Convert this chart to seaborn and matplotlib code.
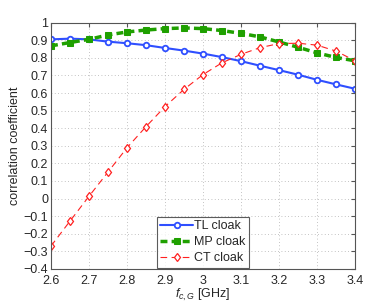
import numpy as np
import pandas as pd
import matplotlib
matplotlib.use('Agg')
import matplotlib.pyplot as plt
import seaborn as sns

freq = [2.6, 2.65, 2.7, 2.75, 2.8, 2.85, 2.9, 2.95, 3.0, 3.05, 3.1, 3.15, 3.2, 3.25, 3.3, 3.35, 3.4]
tl_cloak = [0.905, 0.909, 0.905, 0.892, 0.883, 0.872, 0.856, 0.841, 0.824, 0.804, 0.781, 0.755, 0.730, 0.704, 0.675, 0.649, 0.624]
mp_cloak = [0.868, 0.887, 0.905, 0.930, 0.947, 0.958, 0.966, 0.970, 0.966, 0.955, 0.939, 0.919, 0.890, 0.860, 0.828, 0.802, 0.783]
ct_cloak = [-0.27, -0.128, 0.013, 0.151, 0.289, 0.409, 0.523, 0.621, 0.705, 0.772, 0.820, 0.858, 0.881, 0.883, 0.872, 0.838, 0.783]

df = pd.DataFrame({'f': freq, 'TL cloak': tl_cloak, 'MP cloak': mp_cloak, 'CT cloak': ct_cloak})

sns.set_style('white')
plt.rcParams['font.family'] = ['Liberation Sans', 'DejaVu Sans']
plt.rcParams['mathtext.fontset'] = 'custom'
plt.rcParams['mathtext.it'] = 'Liberation Sans:italic'
plt.rcParams['mathtext.rm'] = 'Liberation Sans'

fig = plt.figure(figsize=(3.92, 3.06), dpi=100)
ax = fig.add_axes([0.130, 0.121, 0.776, 0.805])

sns.lineplot(x='f', y='TL cloak', data=df, ax=ax, color='#2f4fff', linewidth=1.5,
             marker='o', markersize=4, markerfacecolor='white', markeredgecolor='#2f4fff',
             markeredgewidth=1.3, label='TL cloak')
sns.lineplot(x='f', y='MP cloak', data=df, ax=ax, color='#1fa000', linewidth=2.5,
             linestyle=(0, (2.0, 1.2)), marker='s', markersize=4, markerfacecolor='#1fa000',
             markeredgecolor='#1fa000', label='MP cloak')
sns.lineplot(x='f', y='CT cloak', data=df, ax=ax, color='#ff2020', linewidth=0.8,
             linestyle=(0, (6, 4)), marker='d', markersize=4.5, markerfacecolor='white',
             markeredgecolor='#ff2020', markeredgewidth=0.9, label='CT cloak')

ax.set_xlim(2.6, 3.4)
ax.set_ylim(-0.4, 1.0)
ax.set_xticks(np.arange(2.6, 3.41, 0.1))
ax.set_xticklabels(['2.6', '2.7', '2.8', '2.9', '3', '3.1', '3.2', '3.3', '3.4'])
ax.set_yticks(np.arange(-0.4, 1.01, 0.1))
ax.set_yticklabels(['\u22120.4', '\u22120.3', '\u22120.2', '\u22120.1', '0', '0.1', '0.2', '0.3',
                    '0.4', '0.5', '0.6', '0.7', '0.8', '0.9', '1'])
ax.grid(True, linestyle=(0, (1, 3)), color='#b0b0b0', linewidth=0.6)
ax.tick_params(direction='in', length=3, labelsize=9, top=True, right=True, pad=2,
               color='#555555')
ax.tick_params(axis='x', pad=4)
for s in ax.spines.values():
    s.set_color('#555555')
    s.set_linewidth(0.8)

ax.set_xlabel('$f_{c,G}$ [GHz]', fontsize=9, labelpad=0)
ax.set_ylabel('correlation coefficient', fontsize=9, labelpad=2)

leg = ax.legend(loc='lower center', bbox_to_anchor=(0.5, 0.0), fontsize=9, frameon=True,
                fancybox=False, handlelength=2.6, handletextpad=0.1, borderpad=0.3,
                labelspacing=0.3, borderaxespad=0.1)
leg.get_frame().set_edgecolor('#333333')
leg.get_frame().set_linewidth(0.8)

fig.savefig('out.png', dpi=100)
